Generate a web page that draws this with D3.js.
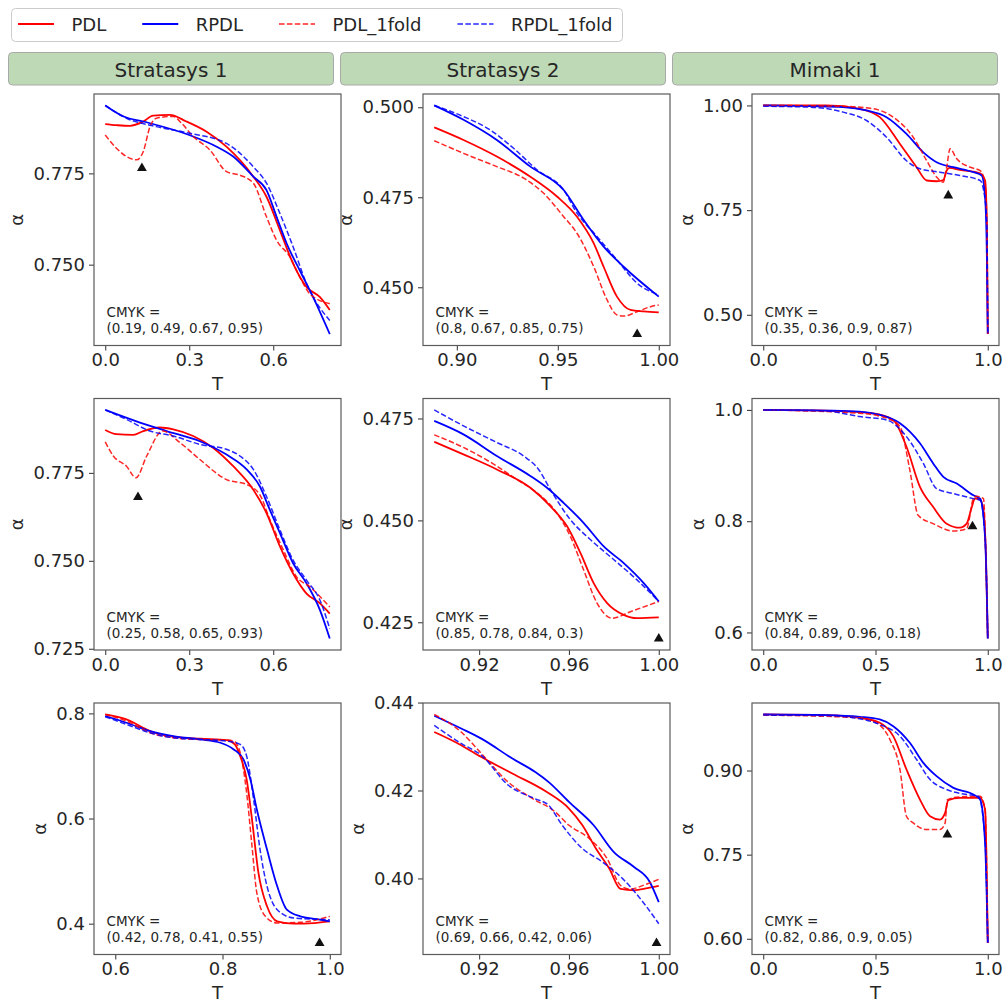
<!DOCTYPE html>
<html>
<head>
<meta charset="utf-8">
<script src="https://cdn.jsdelivr.net/npm/d3@7"></script>
<style>
  body { margin: 0; background: #fff; }
  text { font-family: "DejaVu Sans", sans-serif; fill: #262626; }
</style>
</head>
<body>
<div id="chart"></div>
<script>
// column headers and legend names
var printers = ["Stratasys 1", "Stratasys 2", "Mimaki 1"];
var seriesNames = ["PDL", "RPDL", "PDL_1fold", "RPDL_1fold"];

// ---- row 1 ----
var r1c1_PDL = [[0, .7885], [.04, .7882], [.088, .788], [.136, .7892], [.171, .7908], [.231, .791], [.29, .7892], [.362, .7864], [.433, .7823], [.529, .7741], [.576, .7686], [.624, .7594], [.671, .7503], [.719, .7439], [.767, .7411], [.802, .7376]];
var r1c1_RPDL = [[0, .7936], [.068, .7905], [.136, .7892], [.3, .7855], [.398, .7823], [.457, .7796], [.529, .7741], [.576, .7704], [.612, .7631], [.648, .7558], [.695, .7484], [.737, .742], [.802, .731]];
var r1c1_PDL1 = [[0, .7855], [.04, .7819], [.076, .7796], [.112, .7787], [.136, .781], [.16, .7878], [.183, .7901], [.243, .7906], [.273, .7887], [.314, .7851], [.374, .7814], [.433, .7755], [.481, .7745], [.529, .7723], [.576, .7631], [.612, .7567], [.66, .7521], [.695, .7466], [.731, .742], [.802, .7393]];
var r1c1_RPDL1 = [[0, .7936], [.076, .7901], [.183, .7878], [.3, .786], [.433, .7832], [.529, .7768], [.576, .7723], [.624, .764], [.671, .7549], [.719, .7448], [.802, .7347]];
var r1c1_mark = [.131, .7764];

var r1c2_PDL = [[.8888, .4944], [.9033, .4909], [.9198, .4863], [.9364, .4807], [.9496, .4752], [.9595, .4696], [.9678, .4622], [.9727, .4557], [.9793, .4474], [.986, .4437], [.9926, .4433], [1.0, .443]];
var r1c2_RPDL = [[.8888, .5005], [.9033, .4965], [.9198, .4909], [.9364, .4835], [.9529, .477], [.9628, .4687], [.9727, .4613], [.9826, .4557], [1.0, .4474]];
var r1c2_PDL1 = [[.8888, .4907], [.9033, .4872], [.9198, .4835], [.9331, .4803], [.943, .4761], [.9529, .4696], [.9595, .465], [.9678, .4557], [.9744, .4465], [.9793, .4423], [.9826, .442], [.9893, .4432], [.9959, .4446], [1.0, .4451]];
var r1c2_RPDL1 = [[.8888, .5005], [.9033, .4974], [.9165, .4937], [.9281, .4886], [.9397, .4826], [.9529, .477], [.9595, .4706], [.9694, .4641], [.9793, .4576], [.9893, .4511], [1.0, .4479]];
var r1c2_mark = [.9893, .437];

var r1c3_PDL = [[0, 1.0], [.281, 1.0], [.43, .992], [.519, .972], [.609, .908], [.683, .8525], [.728, .8207], [.772, .819], [.802, .822], [.817, .8446], [.829, .851], [.876, .846], [.966, .838], [.988, .8207], [.996, .717], [1.0, .454]];
var r1c3_RPDL = [[0, 1.0], [.207, .9984], [.356, .996], [.46, .988], [.549, .972], [.638, .932], [.713, .888], [.772, .8645], [.847, .8525], [.936, .8406], [.973, .8326], [.988, .781], [.996, .637], [1.0, .454]];
var r1c3_PDL1 = [[0, 1.0], [.356, .998], [.49, .992], [.579, .972], [.668, .924], [.728, .868], [.772, .829], [.802, .8167], [.817, .8526], [.832, .8964], [.862, .8725], [.921, .8526], [.966, .8446], [.988, .8127], [.996, .717], [1.0, .454]];
var r1c3_RPDL1 = [[0, .998], [.207, .996], [.356, .984], [.46, .964], [.549, .924], [.638, .868], [.698, .8486], [.787, .8406], [.876, .8326], [.966, .8207], [.988, .775], [.996, .717], [1.0, .454]];
var r1c3_mark = [.824, .7848];

// ---- row 2 ----
var r2c1_PDL = [[0, .7872], [.04, .786], [.1, .7858], [.136, .7869], [.195, .7879], [.243, .7874], [.314, .7855], [.386, .7821], [.457, .7769], [.529, .7702], [.576, .7636], [.624, .7541], [.671, .7464], [.719, .7407], [.767, .7379], [.802, .735]];
var r2c1_RPDL = [[0, .7929], [.124, .7893], [.219, .7869], [.338, .784], [.433, .7802], [.505, .776], [.552, .7712], [.588, .7645], [.624, .7579], [.671, .7493], [.719, .7436], [.767, .736], [.802, .7279]];
var r2c1_PDL1 = [[0, .7838], [.029, .7798], [.076, .7769], [.11, .7736], [.148, .7798], [.205, .7869], [.267, .7836], [.338, .7788], [.433, .7731], [.505, .7717], [.552, .7688], [.588, .7617], [.636, .7531], [.683, .7455], [.731, .7426], [.802, .7369]];
var r2c1_RPDL1 = [[0, .7929], [.076, .7902], [.16, .7869], [.243, .7855], [.338, .7831], [.433, .7817], [.481, .7798], [.529, .776], [.576, .7683], [.624, .7588], [.671, .7502], [.719, .7445], [.767, .7388], [.802, .7307]];
var r2c1_mark = [.117, .7681];

var r2c2_PDL = [[.9, .4693], [.913, .4662], [.9279, .4625], [.9428, .458], [.9517, .4535], [.9591, .4486], [.9651, .442], [.971, .4346], [.977, .4297], [.9844, .4268], [.9903, .426], [1.0, .4262]];
var r2c2_RPDL = [[.9, .4744], [.913, .4711], [.9279, .4658], [.9428, .4609], [.9502, .458], [.9576, .4543], [.9665, .4494], [.9755, .4436], [.9844, .4395], [.9933, .4346], [1.0, .4301]];
var r2c2_PDL1 = [[.9, .471], [.913, .4679], [.9279, .4633], [.9368, .46], [.9457, .4568], [.9546, .4518], [.9606, .4461], [.9665, .4379], [.9725, .4297], [.9792, .426], [.9874, .4276], [1.0, .4301]];
var r2c2_RPDL1 = [[.9, .4771], [.913, .4732], [.9279, .4691], [.9398, .4658], [.9465, .4625], [.9517, .4576], [.9606, .4502], [.9695, .4453], [.9799, .4404], [.9903, .4354], [1.0, .4301]];
var r2c2_mark = [1.0, .421];

var r2c3_PDL = [[0, 1.0], [.281, .9988], [.49, .994], [.579, .982], [.638, .9338], [.698, .8617], [.757, .8256], [.817, .7955], [.876, .7883], [.906, .7955], [.929, .8256], [.943, .8406], [.966, .8388], [.981, .8196], [.993, .72], [1.0, .589]];
var r2c3_RPDL = [[0, 1.0], [.281, .9988], [.43, .997], [.519, .991], [.609, .976], [.698, .94], [.757, .9038], [.802, .8797], [.862, .8677], [.936, .8466], [.966, .8406], [.988, .7714], [1.0, .589]];
var r2c3_PDL1 = [[0, 1.0], [.43, .994], [.564, .983], [.609, .97], [.653, .8917], [.69, .8105], [.757, .7955], [.847, .7823], [.906, .7865], [.936, .8406], [.951, .8448], [.981, .8406], [.99, .76], [1.0, .589]];
var r2c3_RPDL1 = [[0, 1.0], [.281, .998], [.43, .988], [.549, .982], [.638, .952], [.713, .9038], [.772, .8587], [.847, .8496], [.936, .8406], [.966, .8376], [.988, .7714], [1.0, .589]];
var r2c3_mark = [.932, .7907];

// ---- row 3 ----
var r3c1_PDL = [[.5813, .798], [.621, .7886], [.665, .7663], [.708, .7556], [.758, .7517], [.808, .7492], [.823, .741], [.833, .7187], [.845, .6743], [.855, .5981], [.867, .4965], [.883, .433], [.902, .4044], [.933, .4], [.97, .4012], [1.0, .4044]];
var r3c1_RPDL = [[.5813, .795], [.621, .7822], [.665, .7663], [.708, .7568], [.758, .7505], [.796, .7441], [.821, .7314], [.839, .7124], [.852, .6743], [.864, .6171], [.883, .5409], [.902, .4711], [.92, .4266], [.945, .4139], [.976, .4088], [1.0, .4044]];
var r3c1_PDL1 = [[.5813, .798], [.621, .7854], [.665, .7632], [.708, .7537], [.758, .7505], [.808, .7492], [.821, .7473], [.833, .725], [.845, .6489], [.855, .5473], [.864, .4584], [.88, .4139], [.902, .4012], [.945, .4025], [1.0, .4139]];
var r3c1_RPDL1 = [[.5813, .7937], [.621, .779], [.665, .7632], [.708, .7537], [.758, .7505], [.808, .7473], [.833, .741], [.845, .7187], [.858, .6362], [.87, .5409], [.883, .4711], [.902, .4266], [.933, .4107], [1.0, .4076]];
var r3c1_mark = [.981, .3631];

var r3c2_PDL = [[.9, .4333], [.912, .4303], [.921, .4276], [.935, .4238], [.95, .4197], [.96, .4159], [.966, .4121], [.972, .4068], [.978, .4022], [.983, .3976], [.989, .3973], [.995, .3978], [1.0, .3983]];
var r3c2_RPDL = [[.9, .437], [.912, .4341], [.921, .4318], [.935, .4272], [.945, .4242], [.951, .4219], [.96, .4174], [.971, .4121], [.98, .406], [.989, .4026], [.996, .3992], [1.0, .3946]];
var r3c2_PDL1 = [[.9, .4373], [.912, .4333], [.921, .4284], [.933, .4219], [.945, .4178], [.953, .4155], [.96, .4121], [.969, .4091], [.977, .4045], [.983, .3984], [.987, .3976], [.995, .3988], [1.0, .3998]];
var r3c2_RPDL1 = [[.9, .4348], [.912, .4307], [.921, .428], [.933, .4212], [.945, .4181], [.951, .4166], [.957, .4121], [.966, .4068], [.975, .4037], [.984, .3999], [.993, .3946], [1.0, .3897]];
var r3c2_mark = [.999, .3853];

var r3c3_PDL = [[0, 1.0], [.281, .9988], [.43, .994], [.519, .9851], [.579, .9613], [.638, .9018], [.698, .8482], [.743, .8185], [.787, .8125], [.81, .8244], [.824, .847], [.876, .8512], [.966, .8512], [.988, .8304], [1.0, .5924]];
var r3c3_RPDL = [[0, 1.0], [.281, .9988], [.43, .9958], [.519, .991], [.579, .9791], [.653, .9494], [.713, .9137], [.772, .8899], [.847, .869], [.936, .8572], [.966, .8482], [.988, .7709], [1.0, .5924]];
var r3c3_PDL1 = [[0, .9988], [.43, .994], [.504, .9851], [.564, .9553], [.609, .9018], [.638, .8185], [.668, .8066], [.728, .7947], [.787, .7947], [.81, .8066], [.82, .8482], [.876, .853], [.966, .8542], [.988, .8304], [1.0, .5924]];
var r3c3_RPDL1 = [[0, .9988], [.281, .998], [.43, .9922], [.519, .9821], [.609, .9613], [.683, .9196], [.743, .8839], [.817, .8661], [.906, .8572], [.958, .8542], [.988, .7768], [1.0, .5924]];
var r3c3_mark = [.82, .7858];

// annotation text in each panel
var cmykLabels = ["(0.19, 0.49, 0.67, 0.95)", "(0.8, 0.67, 0.85, 0.75)", "(0.35, 0.36, 0.9, 0.87)",
  "(0.25, 0.58, 0.65, 0.93)", "(0.85, 0.78, 0.84, 0.3)", "(0.84, 0.89, 0.96, 0.18)",
  "(0.42, 0.78, 0.41, 0.55)", "(0.69, 0.66, 0.42, 0.06)", "(0.82, 0.86, 0.9, 0.05)"];

// tick values and labels
var xTicks = [[0, .3, .6], [.9, .95, 1], [0, .5, 1], [0, .3, .6], [.92, .96, 1], [0, .5, 1], [.6, .8, 1], [.92, .96, 1], [0, .5, 1]];
var xTickLabels = [["0.0", "0.3", "0.6"], ["0.90", "0.95", "1.00"], ["0.0", "0.5", "1.0"],
  ["0.0", "0.3", "0.6"], ["0.92", "0.96", "1.00"], ["0.0", "0.5", "1.0"],
  ["0.6", "0.8", "1.0"], ["0.92", "0.96", "1.00"], ["0.0", "0.5", "1.0"]];
var yTicks = [[.75, .775], [.45, .475, .5], [.5, .75, 1], [.725, .75, .775], [.425, .45, .475], [.6, .8, 1], [.4, .6, .8], [.4, .42, .44], [.6, .75, .9]];
var yTickLabels = [["0.750", "0.775"], ["0.450", "0.475", "0.500"], ["0.50", "0.75", "1.00"],
  ["0.725", "0.750", "0.775"], ["0.425", "0.450", "0.475"], ["0.6", "0.8", "1.0"],
  ["0.4", "0.6", "0.8"], ["0.40", "0.42", "0.44"], ["0.60", "0.75", "0.90"]];

var panelSeries = [
  [r1c1_PDL, r1c1_RPDL, r1c1_PDL1, r1c1_RPDL1], [r1c2_PDL, r1c2_RPDL, r1c2_PDL1, r1c2_RPDL1], [r1c3_PDL, r1c3_RPDL, r1c3_PDL1, r1c3_RPDL1],
  [r2c1_PDL, r2c1_RPDL, r2c1_PDL1, r2c1_RPDL1], [r2c2_PDL, r2c2_RPDL, r2c2_PDL1, r2c2_RPDL1], [r2c3_PDL, r2c3_RPDL, r2c3_PDL1, r2c3_RPDL1],
  [r3c1_PDL, r3c1_RPDL, r3c1_PDL1, r3c1_RPDL1], [r3c2_PDL, r3c2_RPDL, r3c2_PDL1, r3c2_RPDL1], [r3c3_PDL, r3c3_RPDL, r3c3_PDL1, r3c3_RPDL1]
];
var panelMarks = [r1c1_mark, r1c2_mark, r1c3_mark, r2c1_mark, r2c2_mark, r2c3_mark, r3c1_mark, r3c2_mark, r3c3_mark];

// styles for the four series
var seriesColor = ["#ff0000", "#0000ff", "#ff0000", "#0000ff"];
var seriesDash = [null, null, "5.5,2.4", "5.5,2.4"];
var seriesWidth = [1.8, 1.8, 1.5, 1.5];
var seriesOpacity = [1, 1, 0.85, 0.85];

// layout
var colX = [94, 423, 752], rowY = [94, 398.5, 703];
var pw = 247, ph = 251.5;
var tickLen = 5, fs = 18;

var svg = d3.select("#chart").append("svg")
  .attr("width", 1003).attr("height", 1003);

// legend
var leg = svg.append("g");
leg.append("rect").attr("x", 11.5).attr("y", 8.5).attr("width", 611).attr("height", 33)
  .attr("rx", 4).attr("fill", "#fff").attr("stroke", "#cccccc");
var lx = 18;
seriesNames.forEach(function(name, i) {
  leg.append("line").attr("x1", lx).attr("x2", lx + 36).attr("y1", 24).attr("y2", 24)
    .attr("stroke", seriesColor[i]).attr("stroke-width", seriesWidth[i])
    .attr("stroke-dasharray", seriesDash[i]).attr("opacity", seriesOpacity[i]);
  var t = leg.append("text").attr("x", lx + 53.5).attr("y", 30.5)
    .style("font-size", fs + "px").text(name);
  lx = lx + 53.5 + t.node().getComputedTextLength() + 36;
});

// column headers
printers.forEach(function(name, i) {
  var hx = [8, 340, 672][i];
  svg.append("rect").attr("x", hx + 0.5).attr("y", 52.5).attr("width", 325).attr("height", 32.5)
    .attr("rx", 4).attr("fill", "#bed9b6").attr("stroke", "#a9a9a9");
  svg.append("text").attr("x", hx + 163).attr("y", 77)
    .attr("text-anchor", "middle").style("font-size", "20px").text(name);
});

var line = d3.line().curve(d3.curveMonotoneX);

panelSeries.forEach(function(series, p) {
  var row = Math.floor(p / 3), col = p % 3;
  var left = colX[col], top = rowY[row];

  // domains from data with 5% margins, like matplotlib
  var all = d3.merge(series).concat([panelMarks[p]]);
  var xe = d3.extent(all, function(d) { return d[0]; });
  var ye = d3.extent(all, function(d) { return d[1]; });
  var xp = (xe[1] - xe[0]) * 0.05, yp = (ye[1] - ye[0]) * 0.05;
  var x = d3.scaleLinear().domain([xe[0] - xp, xe[1] + xp]).range([0, pw]);
  var y = d3.scaleLinear().domain([ye[0] - yp, ye[1] + yp]).range([ph, 0]);

  var g = svg.append("g").attr("transform", "translate(" + left + "," + top + ")");

  g.append("clipPath").attr("id", "clip" + p)
    .append("rect").attr("width", pw).attr("height", ph);

  // axes
  var xAxis = g.append("g").attr("transform", "translate(0," + ph + ")")
    .call(d3.axisBottom(x).tickValues(xTicks[p]).tickSize(tickLen).tickPadding(4)
      .tickFormat(function(d, i) { return xTickLabels[p][i]; }));
  var yAxis = g.append("g")
    .call(d3.axisLeft(y).tickValues(yTicks[p]).tickSize(tickLen).tickPadding(4)
      .tickFormat(function(d, i) { return yTickLabels[p][i]; }));
  [xAxis, yAxis].forEach(function(a) {
    a.select(".domain").remove();
    a.selectAll(".tick line").attr("stroke", "#404040").attr("stroke-width", 1.1);
    a.selectAll(".tick text").style("font-size", fs + "px").style("font-family", "DejaVu Sans").attr("fill", "#262626");
  });
  xAxis.selectAll(".tick text").attr("dy", "0.71em").attr("y", 8);

  // curves
  var plot = g.append("g").attr("clip-path", "url(#clip" + p + ")");
  series.forEach(function(s, i) {
    plot.append("path")
      .attr("d", line(s.map(function(d) { return [x(d[0]), y(d[1])]; })))
      .attr("fill", "none").attr("stroke", seriesColor[i])
      .attr("stroke-width", seriesWidth[i]).attr("stroke-dasharray", seriesDash[i])
      .attr("opacity", seriesOpacity[i]);
  });

  // marker
  var m = panelMarks[p];
  g.append("path").attr("d", d3.symbol(d3.symbolTriangle, 42)())
    .attr("transform", "translate(" + x(m[0]) + "," + y(m[1]) + ")")
    .attr("fill", "#111");

  // frame
  g.append("rect").attr("width", pw).attr("height", ph)
    .attr("fill", "none").attr("stroke", "#5a5a5a").attr("stroke-width", 1.2);

  // cmyk annotation
  g.append("text").attr("x", 12.5).attr("y", ph - 28.5).style("font-size", "13.5px").text("CMYK =");
  g.append("text").attr("x", 12.5).attr("y", ph - 12.5).style("font-size", "13.5px").text(cmykLabels[p]);

  // axis labels
  g.append("text").attr("x", pw / 2).attr("y", ph + 44.5)
    .attr("text-anchor", "middle").style("font-size", fs + "px").text("T");
  var maxW = d3.max(yAxis.selectAll(".tick text").nodes(), function(n) { return n.getComputedTextLength(); });
  var ax = -tickLen - 4 - maxW - 10;
  g.append("text").attr("transform", "translate(" + ax + "," + (ph / 2) + ") rotate(-90)")
    .attr("text-anchor", "middle").style("font-size", fs + "px").text("α");
});
</script>
</body>
</html>
